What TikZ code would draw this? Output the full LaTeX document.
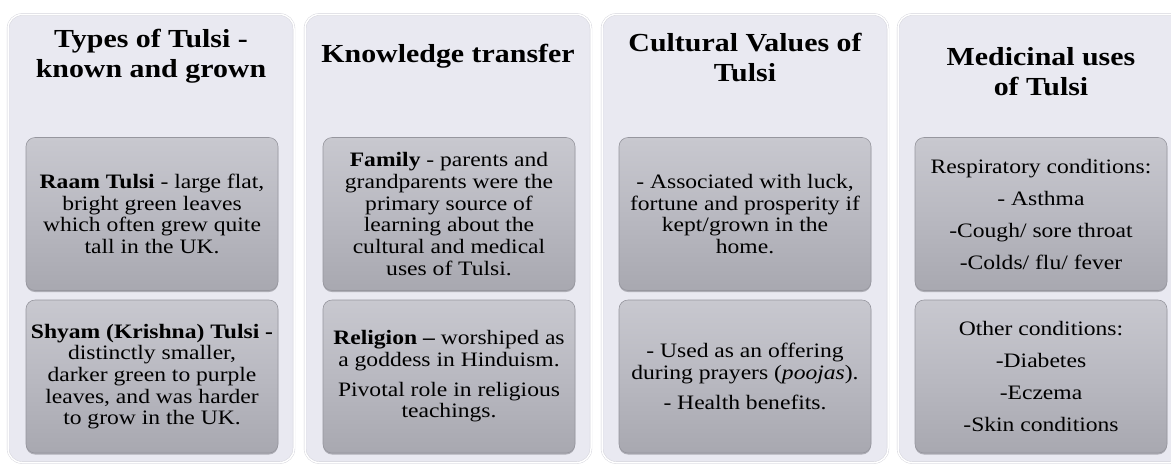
\documentclass[tikz,border=0pt]{standalone}
\usepackage{fontspec}
\setmainfont{Liberation Serif}[FakeStretch=1.15]
\usepackage{tikz}
\usetikzlibrary{positioning,shadows}

\definecolor{colfill}{RGB}{233,233,241}
\definecolor{colrim}{RGB}{208,208,216}
\definecolor{boxtop}{RGB}{200,200,207}
\definecolor{boxmid}{RGB}{185,185,193}
\definecolor{boxbot}{RGB}{168,168,176}
\definecolor{boxrim}{RGB}{150,150,158}

\tikzset{
column/.style={draw=colrim,double=white,double distance=1.5pt,fill=colfill,rounded corners=14pt,minimum width=286pt,minimum height=448pt},
head/.style={font=\fontsize{26}{30}\selectfont\bfseries,align=center},
item/.style={draw=boxrim,line width=0.6pt,top color=boxtop,bottom color=boxbot,middle color=boxmid,rounded corners=9pt,minimum width=252pt,minimum height=153pt,align=center,font=\fontsize{20.5}{21.7}\selectfont,drop shadow={shadow xshift=0pt,shadow yshift=-1.5pt,fill=boxrim,opacity=.7}},
loose/.style={font=\fontsize{20.5}{32}\selectfont}
}

\begin{document}
\begin{tikzpicture}[x=1pt,y=-1pt]
\useasboundingbox[fill=white] (0,0) rectangle (1171,467);
\node[column] (c1) at (151,238.5) {};
\node[column] (c2) at (448,238.5) {};
\node[column] (c3) at (745,238.5) {};
\node[column] (c4) at (1041,238.5) {};

\node[head] (c1h) at (151,56) {Types of Tulsi -\\known and grown};
\node[head] (c2h) at (448,56) {Knowledge transfer};
\node[head] (c3h) at (745,57) {Cultural Values of\\Tulsi};
\node[head] (c4h) at (1041,72) {Medicinal uses\\of Tulsi};

\node[item] (c1a) at (152,214) {\textbf{Raam Tulsi} - large flat,\\bright green leaves\\which often grew quite\\tall in the UK.};
\node[item] (c1b) at (152,376.5) {\textbf{Shyam (Krishna) Tulsi -}\\distinctly smaller,\\darker green to purple\\leaves, and was harder\\to grow in the UK.};
\node[item] (c2a) at (449,214) {\textbf{Family} - parents and\\grandparents were the\\primary source of\\learning about the\\cultural and medical\\uses of Tulsi.};
\node[item] (c2b) at (449,376.5) {\textbf{Religion --} worshiped as\\a goddess in Hinduism.\\[8pt]Pivotal role in religious\\teachings.};
\node[item] (c3a) at (745,214) {- Associated with luck,\\fortune and prosperity if\\kept/grown in the\\home.};
\node[item] (c3b) at (745,376.5) {- Used as an offering\\during prayers (\textit{poojas}).\\[8pt]- Health benefits.};
\node[item,loose] (c4a) at (1041,214) {Respiratory conditions:\\- Asthma\\-Cough/ sore throat\\-Colds/ flu/ fever};
\node[item,loose] (c4b) at (1041,376.5) {Other conditions:\\-Diabetes\\-Eczema\\-Skin conditions};
\end{tikzpicture}
\end{document}
